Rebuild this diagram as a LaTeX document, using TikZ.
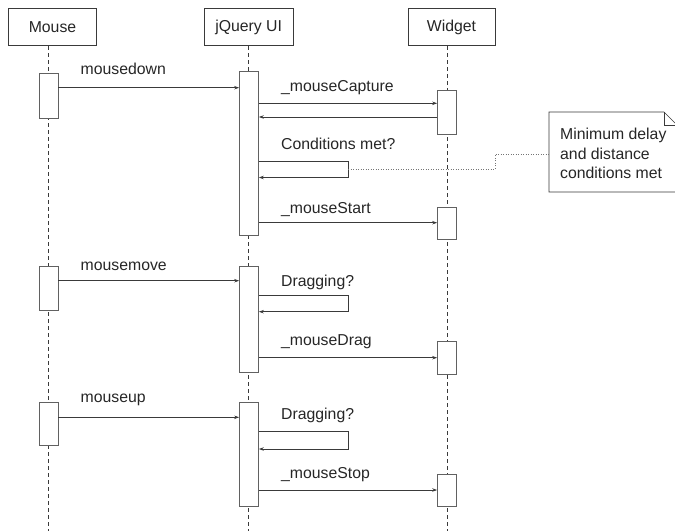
\documentclass[tikz,border=0pt]{standalone}
\usepackage{fontspec}
\setmainfont{Liberation Sans}
\usetikzlibrary{arrows.meta}
\definecolor{ln}{HTML}{3A3A3A}
\tikzset{
  every node/.style={font=\fontsize{15.8}{19.6}\selectfont, text=black!85},
  head/.style={draw=ln, line width=0.7pt, fill=white, minimum height=37.5pt, inner sep=0pt},
  act/.style={draw=ln!80, line width=0.7pt, fill=white, minimum width=19pt, inner sep=0pt},
  life/.style={draw=ln, line width=0.7pt, dash pattern=on 4pt off 3pt},
  msg/.style={draw=ln, line width=0.7pt, -{Stealth[length=5pt,width=3.5pt]}},
  lbl/.style={anchor=base west, inner sep=0pt},
  dots/.style={draw=ln!70, line width=0.7pt, dash pattern=on 1pt off 1.5pt},
}
\begin{document}
\begin{tikzpicture}[x=1pt,y=-1pt]
\useasboundingbox (0,0) rectangle (675,531);
% headers
\node[head, minimum width=88.5pt] (mouse) at (52.5,27) {Mouse};
\node[head, minimum width=89pt] (jq) at (248.7,27) {jQuery UI};
\node[head, minimum width=87pt] (widget) at (451.5,27) {Widget};
% lifeline ends
\coordinate (mouseEnd) at (48.8,531);
\coordinate (jqEnd) at (248.8,531);
\coordinate (widgetEnd) at (447,531);
\draw[life] (mouse.south -| mouseEnd) -- (mouseEnd);
\draw[life] (jq.south -| jqEnd) -- (jqEnd);
\draw[life] (widget.south -| widgetEnd) -- (widgetEnd);
% activations
\node[act, minimum height=45pt] (m1) at (48.5,95.5) {};
\node[act, minimum height=44pt] (m2) at (48.5,288) {};
\node[act, minimum height=43pt] (m3) at (48.5,423.5) {};
\node[act, minimum height=163.3pt] (j1) at (249,153.4) {};
\node[act, minimum height=106pt] (j2) at (249,319) {};
\node[act, minimum height=104.7pt] (j3) at (249,454.4) {};
\node[act, minimum height=44pt] (w1) at (447,112) {};
\node[act, minimum height=32.5pt] (w2) at (447,223.3) {};
\node[act, minimum height=32.3pt] (w3) at (447,357.9) {};
\node[act, minimum height=32.7pt] (w4) at (447,490.4) {};
% loop corners
\coordinate (c1a) at (348,161);
\coordinate (c1b) at (348,177.5);
\coordinate (c2a) at (348,295);
\coordinate (c2b) at (348,311.7);
\coordinate (c3a) at (348,431.7);
\coordinate (c3b) at (348,449);
% messages
\draw[msg] (m1.east |- 0,87.7) -- (j1.west |- 0,87.7);
\draw[msg] (j1.east |- 0,103.3) -- (w1.west |- 0,103.3);
\draw[msg] (w1.west |- 0,117) -- (j1.east |- 0,117);
\draw[msg] (j1.east |- c1a) -- (c1a) -- (c1b) -- (j1.east |- c1b);
\draw[msg] (j1.east |- 0,222.7) -- (w2.west |- 0,222.7);
\draw[msg] (m2.east |- 0,280.7) -- (j2.west |- 0,280.7);
\draw[msg] (j2.east |- c2a) -- (c2a) -- (c2b) -- (j2.east |- c2b);
\draw[msg] (j2.east |- 0,357.7) -- (w3.west |- 0,357.7);
\draw[msg] (m3.east |- 0,417.3) -- (j3.west |- 0,417.3);
\draw[msg] (j3.east |- c3a) -- (c3a) -- (c3b) -- (j3.east |- c3b);
\draw[msg] (j3.east |- 0,490) -- (w4.west |- 0,490);
% labels
\node[lbl] (l1) at (80.5,74.5) {mousedown};
\node[lbl] (l2) at (281,91.3) {\_mouseCapture};
\node[lbl] (l3) at (281,149.6) {Conditions met?};
\node[lbl] (l4) at (281,213) {\_mouseStart};
\node[lbl] (l5) at (80.5,270) {mousemove};
\node[lbl] (l6) at (281,286.3) {Dragging?};
\node[lbl] (l7) at (281,345.6) {\_mouseDrag};
\node[lbl] (l8) at (80.5,402.2) {mouseup};
\node[lbl] (l9) at (281,419.6) {Dragging?};
\node[lbl] (l10) at (281,478.6) {\_mouseStop};
% note
\coordinate (nTL) at (549,112);
\coordinate (nBR) at (677,192);
\draw[draw=ln, line width=0.7pt, fill=white] (nTL) -- (664,112) -- (677,125) -- (nBR) -- (549,192) -- cycle;
\draw[draw=ln, line width=0.7pt] (664,112) -- (664,125) -- (677,125);
\node[anchor=north west, align=left, inner sep=0pt] (note) at (560,128) {Minimum delay\\and distance\\conditions met};
\coordinate (dA) at (348,169);
\coordinate (dB) at (495,169);
\coordinate (dC) at (495,154);
\draw[dots] (dA) -- (dB) -- (dC) -- (nTL |- dC);
\end{tikzpicture}
\end{document}
